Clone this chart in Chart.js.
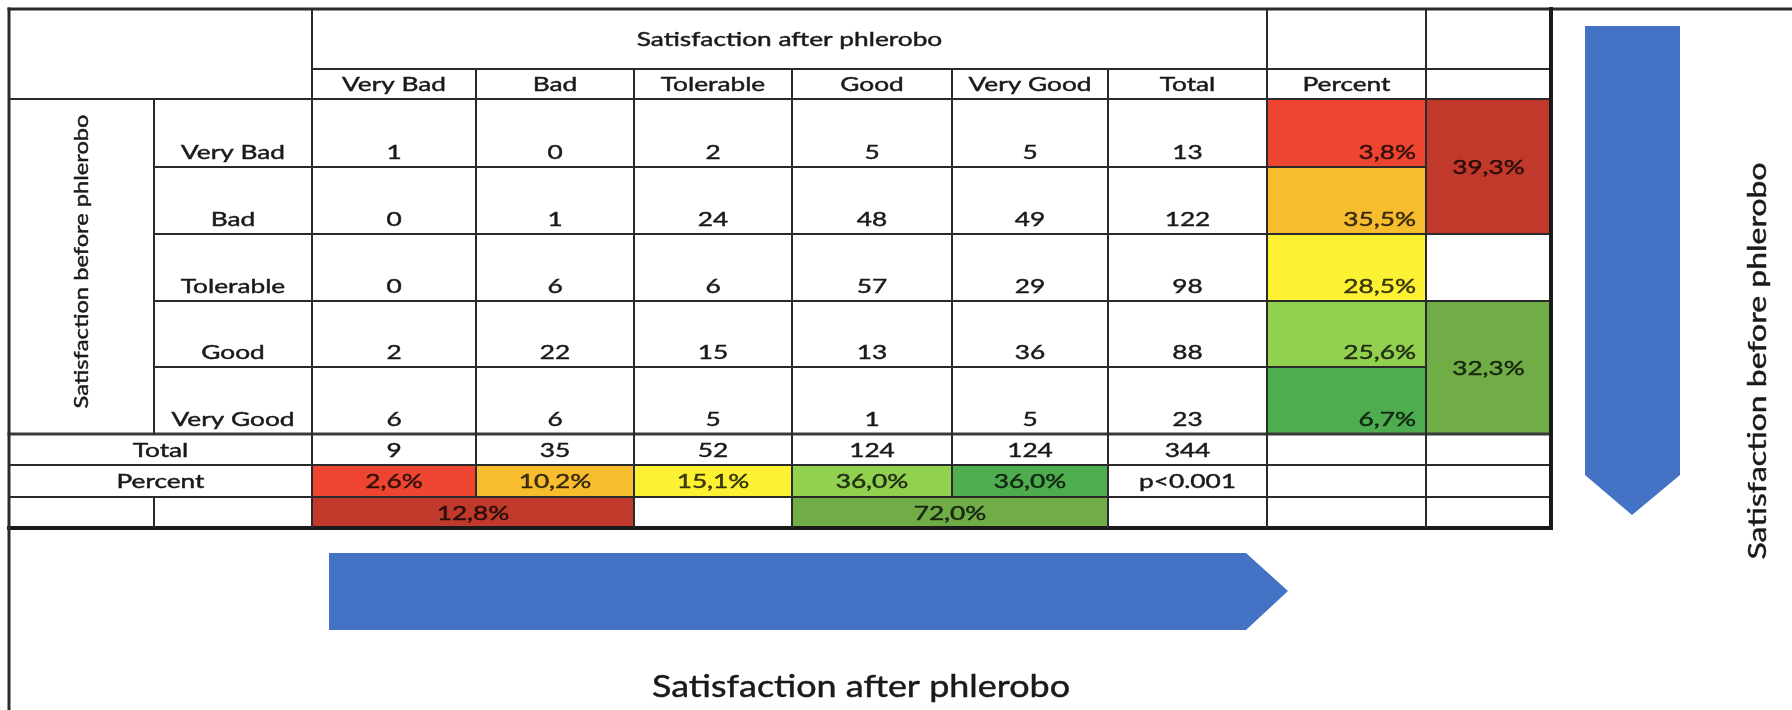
<!DOCTYPE html>
<html>
<head>
<meta charset="utf-8">
<script src="https://cdn.jsdelivr.net/npm/chart.js@4.4.1/dist/chart.umd.min.js"></script>
<style>
  html, body { margin: 0; padding: 0; background: #ffffff; }
  #wrap { width: 1792px; height: 710px; position: relative; }
  canvas { display: block; }
</style>
</head>
<body>
<div id="wrap"><canvas id="chart" width="1792" height="710"></canvas></div>
<script>
// ---------------- DATA ----------------
const CATEGORIES = ['Very Bad', 'Bad', 'Tolerable', 'Good', 'Very Good'];
const ROW_VERY_BAD  = [1, 0, 2, 5, 5];
const ROW_BAD       = [0, 1, 24, 48, 49];
const ROW_TOLERABLE = [0, 6, 6, 57, 29];
const ROW_GOOD      = [2, 22, 15, 13, 36];
const ROW_VERY_GOOD = [6, 6, 5, 1, 5];
const ROW_TOTALS = [13, 122, 98, 88, 23];
const COL_TOTALS = [9, 35, 52, 124, 124];
const GRAND_TOTAL = 344;
const ROW_PERCENTS = [3.8, 35.5, 28.5, 25.6, 6.7];
const COL_PERCENTS = [2.6, 10.2, 15.1, 36.0, 36.0];
const ROW_GROUP_PERCENTS = [39.3, 32.3];
const COL_GROUP_PERCENTS = [12.8, 72.0];
const P_VALUE_LABEL = 'p<0.001';
const LABEL_TOTAL = 'Total';
const LABEL_PERCENT = 'Percent';
const AXIS_AFTER = 'Satisfaction after phlerobo';
const AXIS_BEFORE = 'Satisfaction before phlerobo';

const COUNTS = [ROW_VERY_BAD, ROW_BAD, ROW_TOLERABLE, ROW_GOOD, ROW_VERY_GOOD];

// ---------------- LAYOUT / STYLE ----------------
const COL_EDGES = [9, 154, 312, 476, 634, 792, 952, 1108, 1267, 1426, 1551];
const ROW_EDGES = [9, 69, 99, 167, 234, 301, 367, 434, 465, 497, 528];
const LEVEL_COLORS = ['#EE4530', '#F7BD2F', '#FCF132', '#92D050', '#4EAE4F'];
const GROUP_COLORS = ['#C1392A', '#70AD47'];
const ARROW_COLOR = '#4472C4';
const LINE_COLOR = '#2a2a2a';
const TEXT_COLOR = '#1a1a1a';
const TEXT_ON_FILL = 'rgba(0,0,0,0.74)';
const TABLE_FONT = '20px Lato';
const TABLE_REF = { text: 'Very Good', width: 123 };
const TEXT_HALO = 0.45;
const ARROW_H = [[329, 553], [1246, 553], [1288, 591], [1246, 630], [329, 630]];
const ARROW_V = [[1585, 26], [1680, 26], [1680, 475], [1632, 515], [1585, 475]];

const fmtPct = v => v.toFixed(1).replace('.', ',') + '%';

const crossTabPlugin = {
  id: 'crossTab',
  afterDraw(chart) {
    const ctx = chart.ctx;
    const sx = chart.scales.x, sy = chart.scales.y;
    const X = v => sx.getPixelForValue(v);
    const Y = v => sy.getPixelForValue(v);
    const C = COL_EDGES, R = ROW_EDGES;

    ctx.save();
    ctx.font = TABLE_FONT;
    const stretch = TABLE_REF.width / ctx.measureText(TABLE_REF.text).width;
    ctx.restore();

    const fill = (x1, y1, x2, y2, color) => {
      ctx.fillStyle = color;
      ctx.fillRect(X(x1), Y(y1), X(x2) - X(x1), Y(y2) - Y(y1));
    };
    const hline = (y, x1, x2, w = 2, color = LINE_COLOR) => {
      ctx.fillStyle = color;
      ctx.fillRect(X(x1) - w / 2, Y(y) - w / 2, X(x2) - X(x1) + w, w);
    };
    const vline = (x, y1, y2, w = 2, color = LINE_COLOR) => {
      ctx.fillStyle = color;
      ctx.fillRect(X(x) - w / 2, Y(y1) - w / 2, w, Y(y2) - Y(y1) + w);
    };
    const text = (str, x, y, opt = {}) => {
      const o = Object.assign({ align: 'center', baseline: 'alphabetic', font: TABLE_FONT,
        stretch: stretch, color: TEXT_COLOR, rotate: 0, length: null }, opt);
      ctx.save();
      ctx.font = o.font;
      let s = o.stretch;
      if (o.length) s = o.length / ctx.measureText(str).width;
      ctx.translate(X(x), Y(y));
      if (o.rotate) ctx.rotate(o.rotate);
      ctx.scale(s, 1);
      ctx.fillStyle = o.color;
      ctx.strokeStyle = o.color;
      ctx.lineWidth = TEXT_HALO;
      ctx.textAlign = o.align;
      ctx.textBaseline = o.baseline;
      ctx.fillText(str, 0, 0);
      ctx.strokeText(str, 0, 0);
      ctx.restore();
    };
    const poly = (pts, color) => {
      ctx.beginPath();
      pts.forEach((p, i) => i ? ctx.lineTo(X(p[0]), Y(p[1])) : ctx.moveTo(X(p[0]), Y(p[1])));
      ctx.closePath();
      ctx.fillStyle = color;
      ctx.fill();
    };

    // ---- coloured cells ----
    ROW_PERCENTS.forEach((v, i) => fill(C[8], R[2 + i], C[9], R[3 + i], LEVEL_COLORS[i]));
    fill(C[9], R[2], C[10], R[4], GROUP_COLORS[0]);
    fill(C[9], R[5], C[10], R[7], GROUP_COLORS[1]);
    COL_PERCENTS.forEach((v, j) => fill(C[2 + j], R[8], C[3 + j], R[9], LEVEL_COLORS[j]));
    fill(C[2], R[9], C[4], R[10], GROUP_COLORS[0]);
    fill(C[5], R[9], C[7], R[10], GROUP_COLORS[1]);

    // ---- grid lines ----
    hline(R[0], C[0], 1792, 3);
    hline(R[1], C[2], C[10]);
    hline(R[2], C[0], C[10]);
    hline(R[3], C[1], C[9]);
    hline(R[4], C[1], C[10]);
    hline(R[5], C[1], C[10]);
    hline(R[6], C[1], C[9]);
    hline(R[7], C[0], C[10], 3, '#3a3a3a');
    hline(R[8], C[0], C[10]);
    hline(R[9], C[0], C[10]);
    hline(R[10], C[0], C[10], 4, '#1a1a1a');

    vline(C[0], R[0], 710, 3);
    vline(C[1], R[2], R[7]);
    vline(C[1], R[9], R[10]);
    vline(C[2], R[0], R[10]);
    vline(C[3], R[1], R[9]);
    vline(C[4], R[1], R[10]);
    vline(C[5], R[1], R[10]);
    vline(C[6], R[1], R[9]);
    vline(C[7], R[1], R[10]);
    vline(C[8], R[0], R[10]);
    vline(C[9], R[0], R[10]);
    vline(C[10], R[0], R[10], 4, '#1a1a1a');

    // ---- texts ----
    const mid = (a, b) => (a + b) / 2;
    text(AXIS_AFTER, mid(C[2], C[8]), mid(R[0], R[1]) + 1, { baseline: 'middle' });
    CATEGORIES.forEach((c, j) => text(c, mid(C[2 + j], C[3 + j]), mid(R[1], R[2]) + 1, { baseline: 'middle' }));
    text(LABEL_TOTAL, mid(C[7], C[8]), mid(R[1], R[2]) + 1, { baseline: 'middle' });
    text(LABEL_PERCENT, mid(C[8], C[9]), mid(R[1], R[2]) + 1, { baseline: 'middle' });

    text(AXIS_BEFORE, 88, mid(R[2], R[7]) - 5, { rotate: -Math.PI / 2, length: 294 });

    CATEGORIES.forEach((c, i) => {
      const base = R[3 + i] - 8;
      text(c, mid(C[1], C[2]), base);
      COUNTS[i].forEach((v, j) => text(String(v), mid(C[2 + j], C[3 + j]), base));
      text(String(ROW_TOTALS[i]), mid(C[7], C[8]), base);
      text(fmtPct(ROW_PERCENTS[i]), C[9] - 10, base, { align: 'right', color: TEXT_ON_FILL });
    });
    text(fmtPct(ROW_GROUP_PERCENTS[0]), mid(C[9], C[10]), mid(R[2], R[4]) + 1, { baseline: 'middle', color: TEXT_ON_FILL });
    text(fmtPct(ROW_GROUP_PERCENTS[1]), mid(C[9], C[10]), mid(R[5], R[7]) + 1, { baseline: 'middle', color: TEXT_ON_FILL });

    const yTot = mid(R[7], R[8]) + 1, yPct = mid(R[8], R[9]) + 1, yGrp = mid(R[9], R[10]) + 1;
    text(LABEL_TOTAL, mid(C[0], C[2]), yTot, { baseline: 'middle' });
    COL_TOTALS.forEach((v, j) => text(String(v), mid(C[2 + j], C[3 + j]), yTot, { baseline: 'middle' }));
    text(String(GRAND_TOTAL), mid(C[7], C[8]), yTot, { baseline: 'middle' });

    text(LABEL_PERCENT, mid(C[0], C[2]), yPct, { baseline: 'middle' });
    COL_PERCENTS.forEach((v, j) => text(fmtPct(v), mid(C[2 + j], C[3 + j]), yPct, { baseline: 'middle', color: TEXT_ON_FILL }));
    text(P_VALUE_LABEL, mid(C[7], C[8]), yPct, { baseline: 'middle' });

    text(fmtPct(COL_GROUP_PERCENTS[0]), mid(C[2], C[4]), yGrp, { baseline: 'middle', color: TEXT_ON_FILL });
    text(fmtPct(COL_GROUP_PERCENTS[1]), mid(C[5], C[7]), yGrp, { baseline: 'middle', color: TEXT_ON_FILL });

    // ---- arrows and axis captions ----
    poly(ARROW_H, ARROW_COLOR);
    poly(ARROW_V, ARROW_COLOR);
    text(AXIS_AFTER, 861, 697, { font: '30px Lato', length: 418 });
    text(AXIS_BEFORE, 1766, 361, { font: '25px Lato', length: 397, rotate: -Math.PI / 2 });
  }
};

function build() {
  new Chart(document.getElementById('chart'), {
    type: 'scatter',
    data: { datasets: [{ data: [], pointRadius: 0 }] },
    options: {
      responsive: false,
      animation: false,
      devicePixelRatio: 1,
      layout: { padding: 0 },
      plugins: { legend: { display: false }, tooltip: { enabled: false }, title: { display: false } },
      events: [],
      scales: {
        x: { type: 'linear', min: 0, max: 1792, display: false },
        y: { type: 'linear', min: 0, max: 710, reverse: true, display: false }
      }
    },
    plugins: [crossTabPlugin]
  });
}
if (document.fonts && document.fonts.load) {
  Promise.all([document.fonts.load('20px Lato'), document.fonts.load('30px Lato'), document.fonts.load('25px Lato')]).then(build, build);
} else { build(); }
</script>
</body>
</html>
